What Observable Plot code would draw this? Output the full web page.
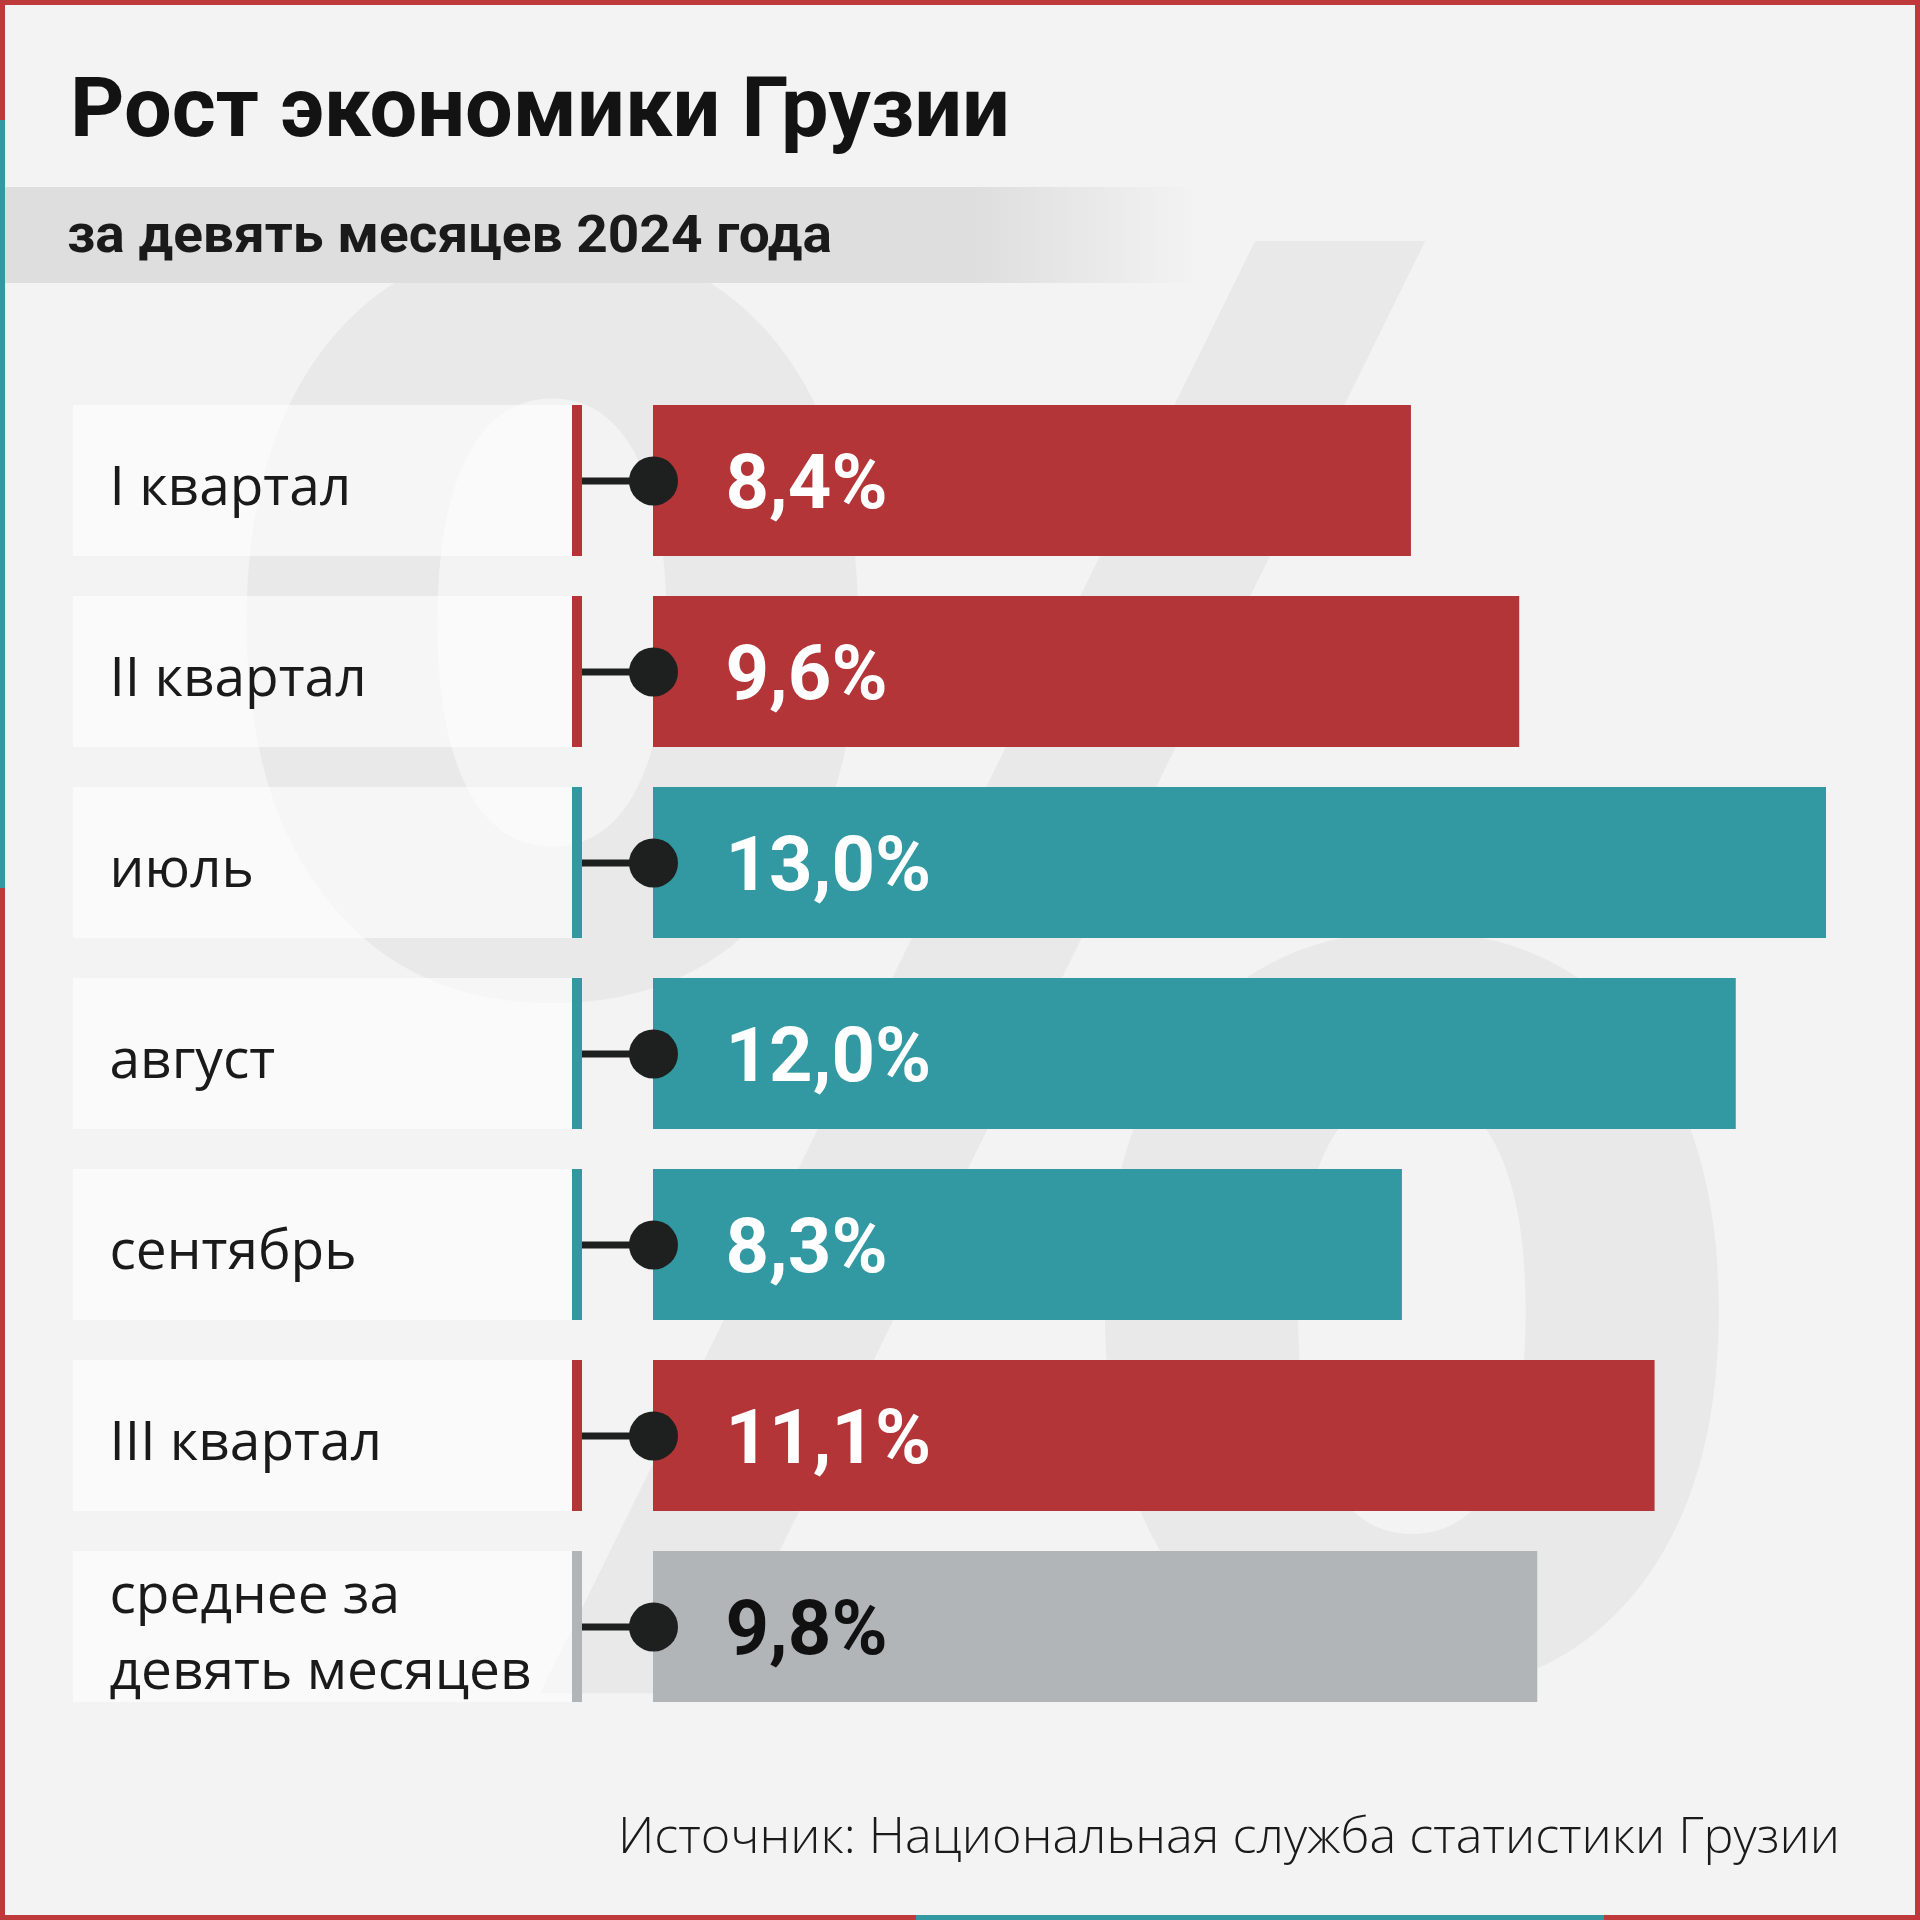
<!DOCTYPE html>
<html>
<head>
<meta charset="utf-8">
<script src="https://cdn.jsdelivr.net/npm/d3@7"></script>
<script src="https://cdn.jsdelivr.net/npm/@observablehq/plot@0.6"></script>
<style>
  body { margin: 0; background: #f3f3f3; }
  #page { position: relative; width: 1920px; height: 1920px; background: #f3f3f3; overflow: hidden; }
  .abs { position: absolute; }
  .fit { position: absolute; white-space: nowrap; transform-origin: 0 0; line-height: 1; }
  #title { font-family: Roboto, sans-serif; font-weight: 700; font-size: 84px; color: #131313; left: 70px; top: 66px; }
  #subtitle { font-family: Roboto, sans-serif; font-weight: 700; font-size: 51px; color: #1a1a1a; left: 67px; top: 209px; }
  #caption { font-family: "Open Sans", sans-serif; font-weight: 300; font-size: 49px; color: #1a1a1a; left: 618px; top: 1810px; }
  #band { left: 5px; top: 187px; width: 1190px; height: 96px;
          background: linear-gradient(to right, #dedede 0px, #dedede 975px, rgba(222,222,222,0) 1190px); }
  #wm { left: 0; top: 0; }
  #chart { left: 0; top: 300px; }
  .border { position: absolute; background: #bd393b; }
  .teal { position: absolute; background: #3299a3; }
</style>
</head>
<body>
<div id="page">
  <canvas id="wm" class="abs" width="1920" height="1920"></canvas>
  <div id="band" class="abs"></div>
  <div id="title" class="fit" data-w="940">Рост экономики Грузии</div>
  <div id="subtitle" class="fit" data-w="765">за девять месяцев 2024 года</div>
  <div id="chart" class="abs"></div>
  <div id="caption" class="fit" data-w="1222">Источник: Национальная служба статистики Грузии</div>
  <div class="border" style="left:0;top:0;width:1920px;height:5px"></div>
  <div class="border" style="left:0;bottom:0;width:1920px;height:5px"></div>
  <div class="border" style="left:0;top:0;width:5px;height:1920px"></div>
  <div class="border" style="right:0;top:0;width:5px;height:1920px"></div>
  <div class="teal" style="left:0;top:120px;width:5px;height:768px"></div>
  <div class="teal" style="left:916px;bottom:0;width:688px;height:5px"></div>
</div>
<script>
// ---- data ----
const categories = ["I квартал", "II квартал", "июль", "август", "сентябрь", "III квартал", "среднее за\nдевять месяцев"];
const values = [8.4, 9.6, 13.0, 12.0, 8.3, 11.1, 9.8];
const kinds = ["quarter", "quarter", "month", "month", "month", "quarter", "average"];

// ---- styling ----
const kindColor = {quarter: "#b33538", month: "#3299a3", average: "#b2b5b8"};
const labelColor = {quarter: "#ffffff", month: "#ffffff", average: "#111111"};

const rows = categories.map((c, i) => ({
  cat: c,
  value: values[i],
  kind: kinds[i],
  label: values[i].toFixed(1).replace(".", ",") + "%"
}));

// decorative background "%" watermark, fitted into its box
function drawWatermark() {
  const ctx = document.getElementById("wm").getContext("2d");
  ctx.setTransform(1, 0, 0, 1, 0, 0);
  ctx.clearRect(0, 0, 1920, 1920);
  ctx.font = "700 1000px 'DejaVu Sans'";
  const m = ctx.measureText("%");
  const bw = m.actualBoundingBoxLeft + m.actualBoundingBoxRight;
  const bh = m.actualBoundingBoxAscent + m.actualBoundingBoxDescent;
  const box = {x: 245, y: 226, w: 1496, h: 1470};
  const sx = box.w / bw, sy = box.h / bh;
  ctx.setTransform(sx, 0, 0, sy, box.x, box.y);
  ctx.fillStyle = "#e9e9e9";
  ctx.fillText("%", m.actualBoundingBoxLeft, m.actualBoundingBoxAscent);
}
drawWatermark();

const chart = Plot.plot({
  width: 1920,
  height: 1480,
  marginTop: 105,
  marginBottom: 78,
  marginLeft: 653,
  marginRight: 94,
  style: {background: "transparent", overflow: "visible"},
  x: {domain: [0, 13], axis: null},
  y: {domain: categories, axis: null, paddingInner: 0.21, paddingOuter: 0},
  color: {type: "identity"},
  marks: [
    // label boxes
    Plot.barX(rows, {y: "cat", x1: () => 0, x2: () => 0, insetLeft: -580, insetRight: 81, fill: "#ffffff", fillOpacity: 0.6}),
    // colored vertical tick next to label box
    Plot.barX(rows, {y: "cat", x1: () => 0, x2: () => 0, insetLeft: -81, insetRight: 71, fill: d => kindColor[d.kind]}),
    // bars
    Plot.barX(rows, {y: "cat", x1: () => 0, x2: "value", fill: d => kindColor[d.kind]}),
    // connector
    Plot.ruleY(rows, {y: "cat", x1: () => 0, x2: () => 0, insetLeft: -71, stroke: "#1e201f", strokeWidth: 7}),
    Plot.dot(rows, {y: "cat", x: () => 0, r: 24.5, fill: "#1e201f"}),
    // category labels
    Plot.text(rows, {y: "cat", text: "cat", frameAnchor: "left", dx: -544, textAnchor: "start",
      fontFamily: "Open Sans", fontSize: 55, fill: "#1a1a1a", lineHeight: 1.38}),
    // value labels
    Plot.text(rows, {y: "cat", x: () => 0, text: "label", dx: 72, dy: 3, textAnchor: "start",
      fontFamily: "Roboto", fontWeight: 700, fontSize: 76, fill: d => labelColor[d.kind]})
  ]
});
document.getElementById("chart").appendChild(chart);

function fitAll() {
  document.querySelectorAll(".fit").forEach(el => {
    el.style.transform = "none";
    const w = el.getBoundingClientRect().width;
    const target = +el.dataset.w;
    if (w > 0) el.style.transform = `scaleX(${target / w})`;
  });
}
fitAll();
if (document.fonts && document.fonts.ready) document.fonts.ready.then(() => { fitAll(); drawWatermark(); });
</script>
</body>
</html>
